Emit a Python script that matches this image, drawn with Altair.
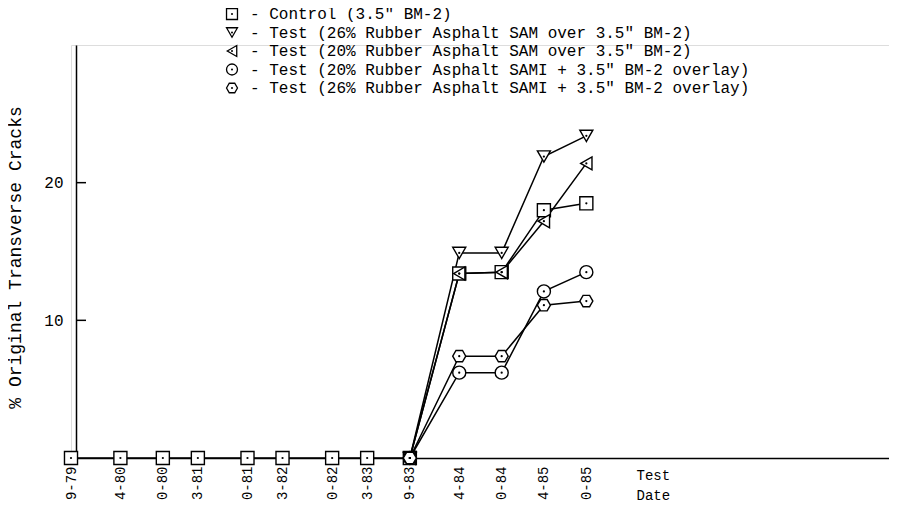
import altair as alt
import pandas as pd

dates = ["1979-09-01", "1980-04-01", "1980-10-01", "1981-03-01", "1981-10-01",
         "1982-03-01", "1982-10-01", "1983-03-01", "1983-09-01", "1984-04-01",
         "1984-10-01", "1985-04-01", "1985-10-01"]

series_names = [
    "- Control (3.5\" BM-2)",
    "- Test (26% Rubber Asphalt SAM over 3.5\" BM-2)",
    "- Test (20% Rubber Asphalt SAM over 3.5\" BM-2)",
    "- Test (20% Rubber Asphalt SAMI + 3.5\" BM-2 overlay)",
    "- Test (26% Rubber Asphalt SAMI + 3.5\" BM-2 overlay)",
]

control = [0, 0, 0, 0, 0, 0, 0, 0, 0, 13.4, 13.5, 18.0, 18.5]
sam26 = [None] * 8 + [0, 14.9, 14.9, 21.9, 23.4]
sam20 = [None] * 8 + [0, 13.4, 13.5, 17.2, 21.4]
sami20 = [None] * 8 + [0, 6.2, 6.2, 12.1, 13.5]
sami26 = [None] * 8 + [0, 7.4, 7.4, 11.1, 11.4]

y_ticks = [10, 20]

hexagon = "M-1,0L-0.5,-0.866L0.5,-0.866L1,0L0.5,0.866L-0.5,0.866Z"
shapes = ["square", "triangle-down", "triangle-left", "circle", hexagon]

rows = []
for name, vals in zip(series_names, [control, sam26, sam20, sami20, sami26]):
    for d, v in zip(dates, vals):
        if v is not None:
            rows.append({"date": d, "value": v, "series": name})
df = pd.DataFrame(rows)
ticks_df = pd.DataFrame({"y": y_ticks})
legend_df = pd.DataFrame({"series": series_names, "idx": list(range(len(series_names)))})

FONT = "Liberation Mono"

x_enc = alt.X(
    "date:T",
    scale=alt.Scale(type="utc", domain=["1979-09-01", "1989-04-28"]),
    axis=alt.Axis(
        values=[alt.DateTime(year=int(d[:4]), month=int(d[5:7]), date=1, utc=True) for d in dates],
        labelExpr="(utcmonth(datum.value) + 1) + '-' + (utcyear(datum.value) % 100)",
        labelAngle=270, labelAlign="right", labelBaseline="middle",
        labelPadding=8, labelFontSize=14, labelFont=FONT, labelColor="black",
        tickSize=0, grid=False, domainColor="black", domainWidth=1.5,
        labelOverlap=False, labelFlush=False,
        title=["Test", "Date"], titleX=565, titleY=10, titleAlign="left",
        titleBaseline="top", titleAngle=0, titleFont=FONT, titleFontSize=14,
        titleFontWeight="normal", titleLineHeight=20, titleColor="black",
    ),
)
y_enc = alt.Y(
    "value:Q",
    scale=alt.Scale(domain=[0, 30]),
    axis=alt.Axis(
        values=y_ticks, tickSize=0, grid=False, offset=-5,
        labelFont=FONT, labelFontSize=16, labelPadding=13, labelColor="black",
        domainColor="black", domainWidth=1.5,
        title="% Original Transverse Cracks", titleFont=FONT, titleFontSize=18,
        titleFontWeight="normal", titleColor="black", titleAngle=270,
        titleX=-61, titleY=212, titleAlign="center", titleBaseline="middle",
    ),
)

shape_scale = alt.Scale(domain=series_names, range=shapes)

lines = alt.Chart(df).mark_line(color="black", strokeWidth=1.5).encode(
    x=x_enc, y=y_enc, detail="series:N"
)

points = alt.Chart(df).mark_point(
    filled=False, fill="white", fillOpacity=1, stroke="black", strokeWidth=1.4,
    size=170, opacity=1
).encode(
    x=alt.X("date:T"),
    y=alt.Y("value:Q"),
    shape=alt.Shape("series:N", scale=shape_scale, legend=None),
)

dots = alt.Chart(df).mark_circle(color="black", size=5, opacity=1).encode(
    x=alt.X("date:T"), y=alt.Y("value:Q")
)

yticks = alt.Chart(ticks_df).mark_rule(color="black", strokeWidth=1.5).encode(
    y=alt.Y("y:Q"), x=alt.value(5), x2=alt.value(15)
)

data_layer = alt.layer(lines, yticks, points, dots)

# hand-built legend (row positions computed from the row index)
leg_base = alt.Chart(legend_df).transform_calculate(py="-31 + datum.idx * 18.5")
leg_sym = leg_base.mark_point(
    filled=False, fill="white", fillOpacity=1, stroke="black", strokeWidth=1.3, size=120
).encode(
    x=alt.value(161),
    y=alt.Y("py:Q", scale=None, axis=None),
    shape=alt.Shape("series:N", scale=shape_scale, legend=None),
)
leg_dot = leg_base.mark_circle(color="black", size=4, opacity=1).encode(
    x=alt.value(161), y=alt.Y("py:Q", scale=None, axis=None)
)
leg_txt = leg_base.mark_text(
    align="left", baseline="middle", font=FONT, fontSize=16, color="black"
).encode(
    x=alt.value(179), y=alt.Y("py:Q", scale=None, axis=None), text="series:N"
)
legend_layer = alt.layer(leg_sym, leg_dot, leg_txt)

chart = alt.layer(data_layer, legend_layer).resolve_scale(y="independent").properties(
    width=818, height=413,
    autosize=alt.AutoSizeParams(type="none"),
    padding={"left": 63, "top": 37, "right": 0, "bottom": 42},
).configure_view(stroke=None).configure(background="white")

chart.save("out.html", embed_options={"renderer": "svg", "actions": False})
